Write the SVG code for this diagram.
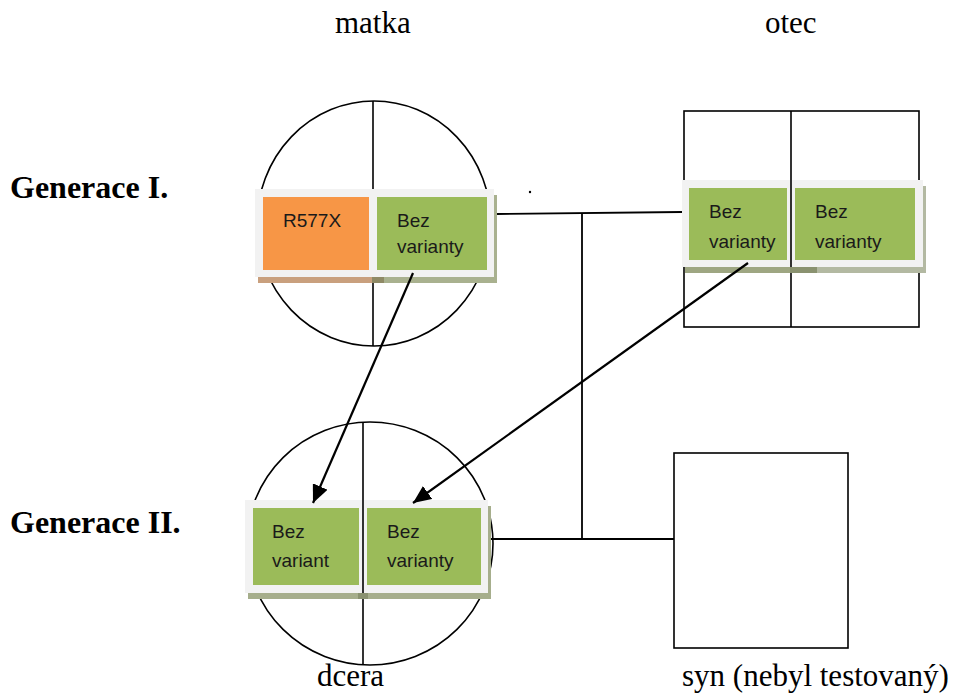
<svg xmlns="http://www.w3.org/2000/svg" width="957" height="694" viewBox="0 0 957 694">
<style>
.lbl{font-family:"Liberation Serif","Times New Roman",serif;font-size:31px;fill:#000}
.gen{font-family:"Liberation Serif","Times New Roman",serif;font-size:32px;font-weight:bold;fill:#000}
.bx{font-family:"Liberation Sans",Arial,sans-serif;font-size:19px;fill:#1a1a1a}
.sym{fill:none;stroke:#000;stroke-width:1.6}
.frame{fill:#f2f2f2}
.org{fill:#f79646}
.grn{fill:#9bbb59}
.ln{fill:none;stroke:#000;stroke-width:1.8}
.arr{fill:none;stroke:#000;stroke-width:2.2;marker-end:url(#ah)}
</style>
<defs>
<marker id="ah" markerUnits="userSpaceOnUse" markerWidth="20" markerHeight="16" refX="18" refY="8" orient="auto">
<path d="M0,0 L18,8 L0,16 z" fill="#000"/>
</marker>
</defs>
<rect width="957" height="694" fill="#fff"/>

<text class="lbl" x="335" y="33">matka</text>
<text class="lbl" x="765" y="33">otec</text>
<text class="gen" x="10" y="198">Generace I.</text>
<text class="gen" x="10" y="533">Generace II.</text>
<text class="lbl" x="317" y="686">dcera</text>
<text class="lbl" x="682" y="686">syn (nebyl testovaný)</text>
<circle cx="530" cy="192" r="1.2" fill="#000"/>

<g id="matka">
<ellipse class="sym" cx="374" cy="223.5" rx="117" ry="122.5"/>
<line class="sym" x1="373" y1="101" x2="373" y2="346"/>
<rect x="258" y="195" width="124" height="88" fill="#c9a07e"/>
<rect x="382" y="195" width="115" height="88" fill="#a9b18f"/>
<rect x="372" y="277" width="12" height="6" fill="#8f8a66"/>
<rect class="frame" x="255" y="189" width="239" height="88"/>
<rect class="org" x="263" y="197" width="106" height="73"/>
<rect class="grn" x="377" y="197" width="110" height="73"/>
<text class="bx" x="283" y="227">R577X</text>
<text class="bx" x="397" y="227">Bez</text>
<text class="bx" x="397" y="253">varianty</text>
</g>

<g id="otec">
<rect class="sym" x="684" y="111" width="235" height="216"/>
<line class="sym" x1="791" y1="111" x2="791" y2="327"/>
<rect x="685" y="186" width="132" height="87" fill="#9ea682"/>
<rect x="817" y="186" width="109" height="87" fill="#b3b9a2"/>
<rect x="790" y="267" width="27" height="6" fill="#8a9270"/>
<rect class="frame" x="682" y="180" width="241" height="87"/>
<line class="sym" x1="791" y1="180" x2="791" y2="267"/>
<rect class="grn" x="689" y="188" width="98" height="72"/>
<rect class="grn" x="795" y="188" width="120" height="72"/>
<text class="bx" x="709" y="218">Bez</text>
<text class="bx" x="709" y="248">varianty</text>
<text class="bx" x="815" y="218">Bez</text>
<text class="bx" x="815" y="248">varianty</text>
</g>

<g id="dcera">
<ellipse class="sym" cx="370" cy="543.5" rx="123" ry="121.5"/>
<line class="sym" x1="363" y1="422" x2="363" y2="665"/>
<rect x="248" y="506" width="243" height="93" fill="#a6ae8c"/>
<rect x="358" y="593" width="10" height="6" fill="#8a9270"/>
<rect class="frame" x="245" y="500" width="243" height="93"/>
<line class="sym" x1="363" y1="500" x2="363" y2="593"/>
<rect class="grn" x="253" y="508" width="106" height="77"/>
<rect class="grn" x="367" y="508" width="114" height="77"/>
<text class="bx" x="272" y="538">Bez</text>
<text class="bx" x="272" y="567">variant</text>
<text class="bx" x="387" y="538">Bez</text>
<text class="bx" x="387" y="567">varianty</text>
</g>

<g id="syn">
<rect class="sym" x="674" y="453" width="174" height="195"/>
</g>

<g id="connectors">
<path class="ln" d="M497,214 L682,212"/>
<path class="ln" d="M582,213 L582,539"/>
<path class="ln" d="M491,539 L674,539"/>
<path class="arr" d="M413,273 L313,503"/>
<path class="arr" d="M748,263 L413,503"/>
</g>
</svg>
